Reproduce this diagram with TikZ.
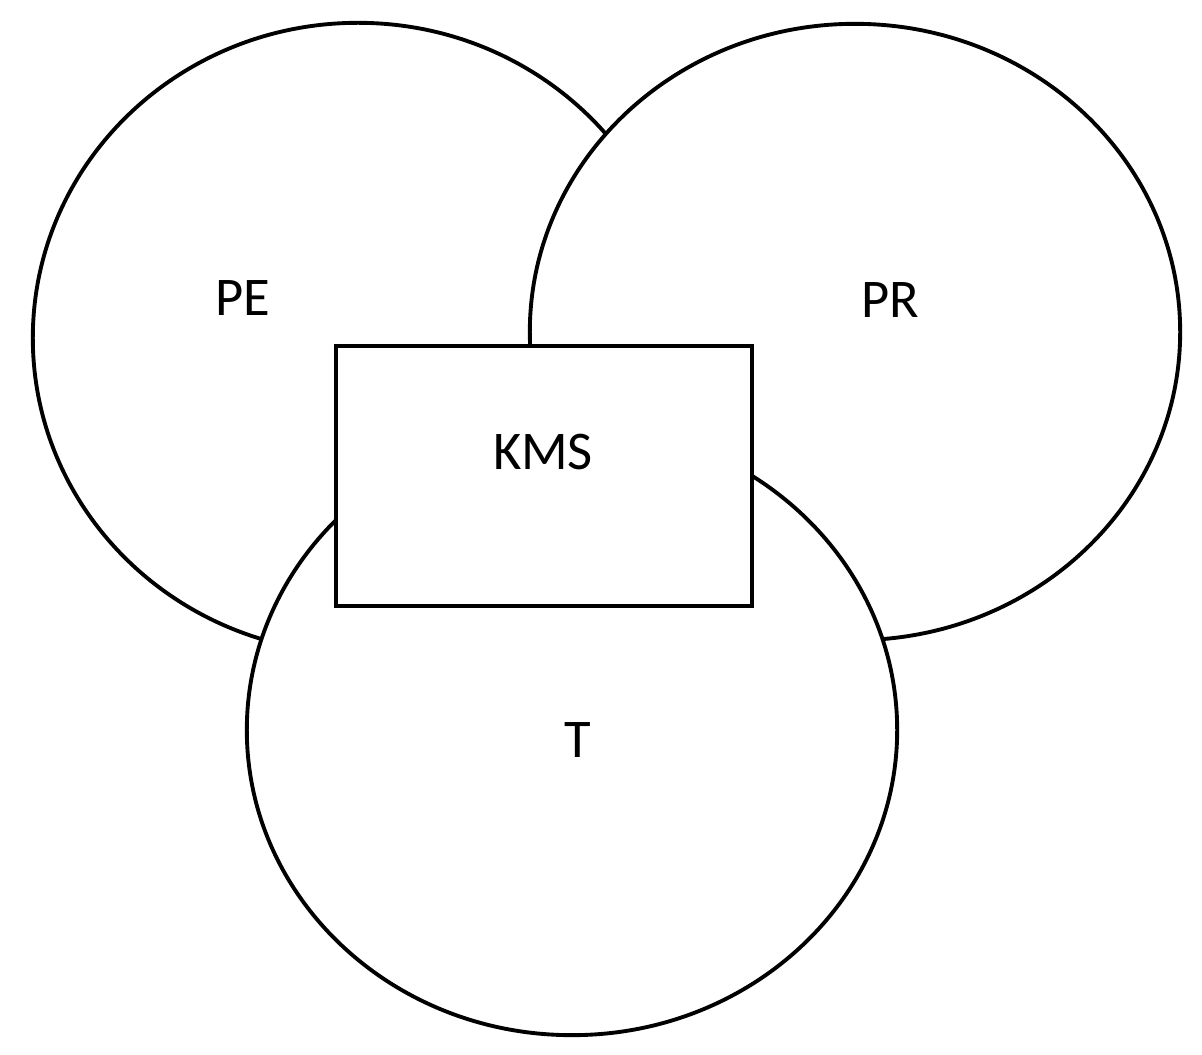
\documentclass[tikz,border=0pt]{standalone}
\usepackage{fontspec}
\setmainfont{Carlito}
\usetikzlibrary{shapes.geometric}
\tikzset{%
  % Specifications for style of nodes:
  base/.style = {draw=black, line width=1.1pt, fill=white, inner sep=0pt},
  setstyle/.style = {base, ellipse},
  boxstyle/.style = {base, rectangle, minimum width=4.16cm, minimum height=2.6cm},
  labelstyle/.style = {font=\fontsize{15.5}{18}\selectfont},
}
\begin{document}
\begin{tikzpicture}[x=0.01cm, y=-0.01cm]
  \useasboundingbox (0,0) rectangle (1202,1055);
  % Sets drawn back to front
  \node (pe) [setstyle, minimum width=6.5cm, minimum height=6.3cm] at (358,338) {};
  \node (pr) [setstyle, minimum width=6.5cm, minimum height=6.16cm] at (855,332) {};
  \node (t)  [setstyle, minimum width=6.5cm, minimum height=6.1cm] at (572,730) {};
  \node (kms) [boxstyle] at (544,476) {};
  % Labels
  \node (pelabel)  [labelstyle] at (243,298) {PE};
  \node (prlabel)  [labelstyle] at (890,300) {PR};
  \node (tlabel)   [labelstyle] at (578,740) {T};
  \node (kmslabel) [labelstyle] at (543,452) {KMS};
\end{tikzpicture}
\end{document}
